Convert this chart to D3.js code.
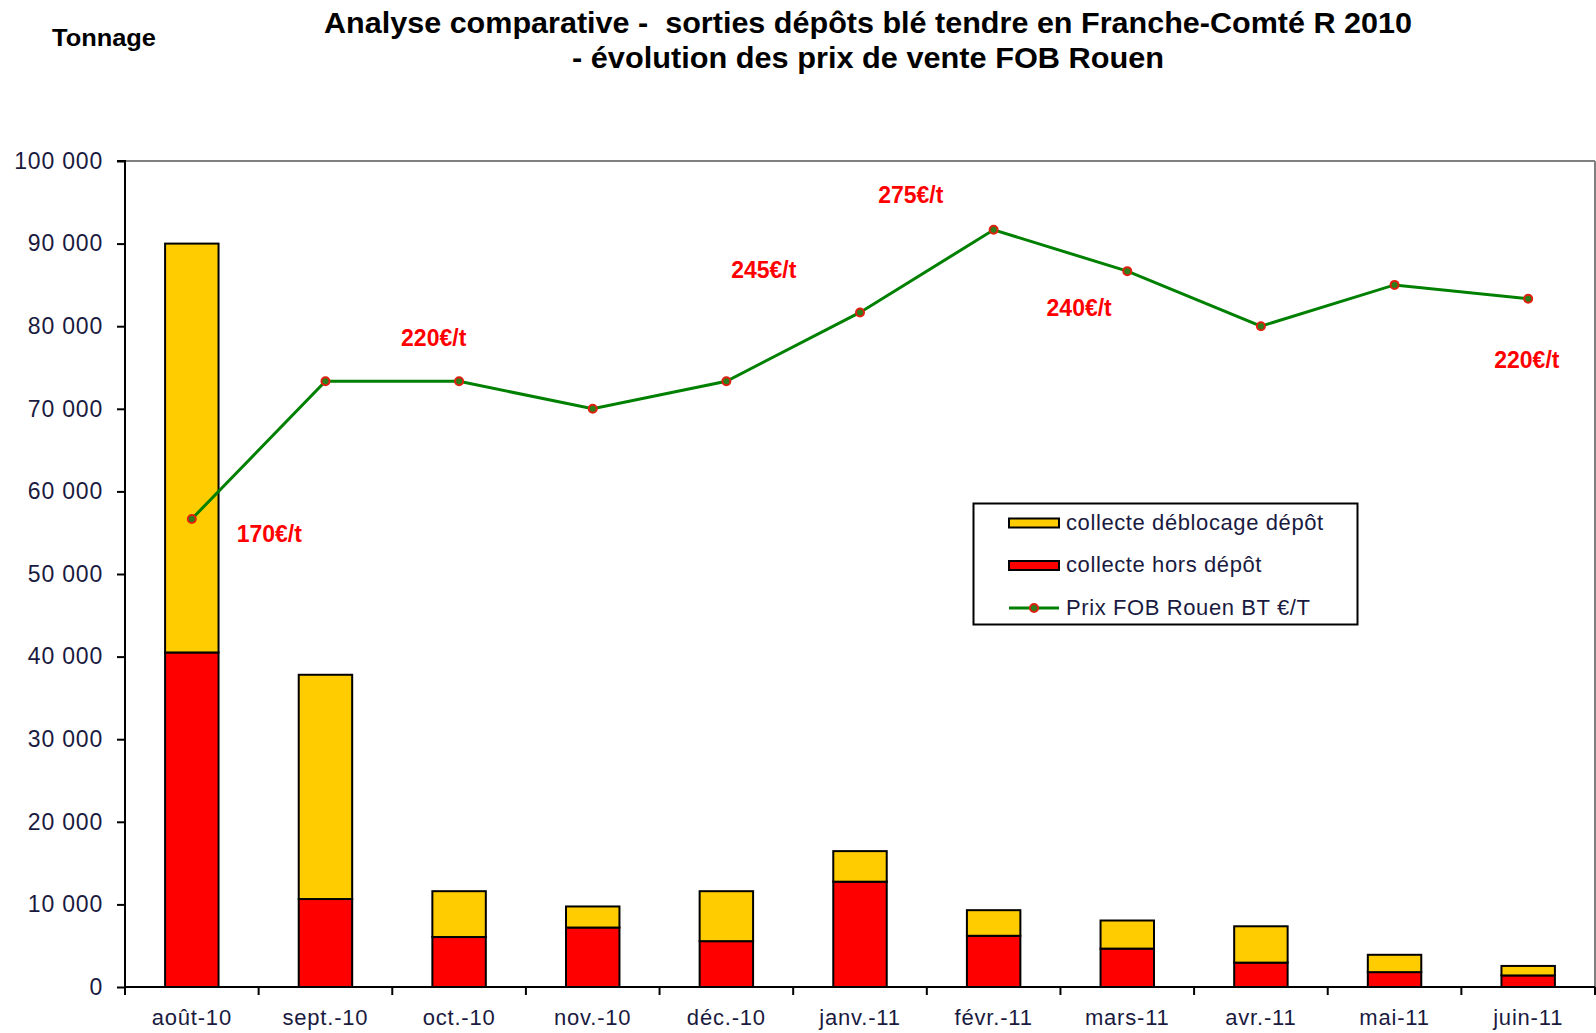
<!DOCTYPE html>
<html><head><meta charset="utf-8">
<script src="https://cdn.jsdelivr.net/npm/d3@7"></script>
<style>
html,body{margin:0;padding:0;background:#fff;}
text{font-family:"Liberation Sans",Arial,sans-serif;}
</style></head>
<body>
<svg id="chart" width="1596" height="1033"></svg>
<script>
const categories = ["août-10","sept.-10","oct.-10","nov.-10","déc.-10","janv.-11","févr.-11","mars-11","avr.-11","mai-11","juin-11"];
const horsDepot = [40500,10650,6050,7200,5550,12750,6200,4650,2950,1800,1400];
const deblocage = [49500,27150,5550,2550,6050,3700,3100,3400,4400,2100,1150];
const prixFOB = [170,220,220,210,220,245,275,260,240,255,250];
const yTicks = [0,10000,20000,30000,40000,50000,60000,70000,80000,90000,100000];
const priceLabels = [
  {text:"170€/t", cat:0.58, price:164.6},
  {text:"220€/t", cat:1.81, price:235.6},
  {text:"245€/t", cat:4.28, price:260.4},
  {text:"275€/t", cat:5.38, price:287.8},
  {text:"240€/t", cat:6.64, price:246.7},
  {text:"220€/t", cat:9.99, price:227.9}
];
const titleLines = ["Analyse comparative -  sorties dépôts blé tendre en Franche-Comté R 2010","- évolution des prix de vente FOB Rouen"];
const legendItems = [
  {label:"collecte déblocage dépôt", type:"bar", color:"#FFCC00"},
  {label:"collecte hors dépôt", type:"bar", color:"#FF0000"},
  {label:"Prix FOB Rouen BT €/T", type:"line", color:"#008000"}
];

const svg = d3.select("#chart");
const m = {left:125, right:1595, top:161, bottom:987};

const x = d3.scaleBand().domain(categories).range([m.left, m.right]).paddingInner(0.6).paddingOuter(0.3);
const xCat = d3.scaleBand().domain(categories).range([m.left, m.right]);
const y = d3.scaleLinear().domain([0,100000]).range([m.bottom, m.top]);
const y2 = d3.scaleLinear().domain([0,300]).range([m.bottom, m.top]);
const xIdx = i => m.left + xCat.step()*(i+0.5);

// plot border (top & right)
svg.append("line").attr("x1",m.left).attr("x2",m.right).attr("y1",m.top).attr("y2",m.top).attr("stroke","#808080").attr("stroke-width",2);
svg.append("line").attr("x1",m.right).attr("x2",m.right).attr("y1",m.top).attr("y2",m.bottom).attr("stroke","#808080").attr("stroke-width",2);

// bars
const stackData = categories.map((c,i)=>({cat:c, hors:horsDepot[i], debl:deblocage[i]}));
const stack = d3.stack().keys(["hors","debl"])(stackData);
const colors = {hors:"#FF0000", debl:"#FFCC00"};
svg.append("g").selectAll("g").data(stack).join("g")
  .attr("fill", d=>colors[d.key])
  .selectAll("rect").data(d=>d).join("rect")
  .attr("x", d=>x(d.data.cat))
  .attr("width", x.bandwidth())
  .attr("y", d=>y(d[1]))
  .attr("height", d=>y(d[0])-y(d[1]))
  .attr("stroke","#000").attr("stroke-width",2);

// y axis
const yAxis = d3.axisLeft(y).tickValues(yTicks).tickSize(8)
  .tickFormat(d=>d3.format(",")(d).replace(/,/g," "));
const gy = svg.append("g").attr("transform",`translate(${m.left},0)`).call(yAxis);
gy.select(".domain").attr("stroke","#000").attr("stroke-width",2).attr("d",`M-8,${m.top}H0V${m.bottom+8}`);
gy.selectAll(".tick line").attr("stroke","#000").attr("stroke-width",2);
gy.selectAll(".tick text").attr("font-size",23).attr("fill","#1a1a40").attr("x",-22)
  .attr("letter-spacing","0.8px")
  .attr("font-family","'Liberation Sans',Arial,sans-serif");

// x axis
const gx = svg.append("g").attr("transform",`translate(0,${m.bottom})`);
gx.append("line").attr("x1",m.left).attr("x2",m.right).attr("stroke","#000").attr("stroke-width",2);
gx.selectAll("line.tk").data(categories.slice(1).concat(["end"])).join("line").attr("class","tk")
  .attr("x1",(d,i)=>m.left+xCat.step()*(i+1)).attr("x2",(d,i)=>m.left+xCat.step()*(i+1))
  .attr("y1",0).attr("y2",8).attr("stroke","#000").attr("stroke-width",2);
gx.selectAll("text").data(categories).join("text")
  .attr("x",d=>xCat(d)+xCat.bandwidth()/2).attr("y",38)
  .attr("text-anchor","middle").attr("font-size",22).attr("letter-spacing","0.8px").attr("fill","#1a1a40").text(d=>d);

// price line
const line = d3.line().x((d,i)=>xIdx(i)).y(d=>y2(d));
svg.append("path").datum(prixFOB).attr("d",line).attr("fill","none").attr("stroke","#008000").attr("stroke-width",3);
svg.append("g").selectAll("circle").data(prixFOB).join("circle")
  .attr("cx",(d,i)=>xIdx(i)).attr("cy",d=>y2(d)).attr("r",4)
  .attr("fill","#2e7d1a").attr("stroke","#e02010").attr("stroke-width",2);

// price labels
svg.append("g").selectAll("text").data(priceLabels).join("text")
  .attr("x",d=>xIdx(d.cat)).attr("y",d=>y2(d.price)).attr("dy","0.35em")
  .attr("text-anchor","middle").attr("font-size",23).attr("font-weight","bold").attr("fill","#FF0000")
  .text(d=>d.text);

// legend
const lg = svg.append("g");
lg.append("rect").attr("x",973.5).attr("y",503.5).attr("width",384).attr("height",121).attr("fill","#fff").attr("stroke","#000").attr("stroke-width",2);
const li = lg.selectAll("g").data(legendItems).join("g").attr("transform",(d,i)=>`translate(1009,${523+i*42.5})`);
li.filter(d=>d.type==="bar").append("rect").attr("x",0).attr("y",-4.5).attr("width",50).attr("height",9)
  .attr("fill",d=>d.color).attr("stroke","#000").attr("stroke-width",2);
li.filter(d=>d.type==="line").append("line").attr("x1",0).attr("x2",50).attr("stroke",d=>d.color).attr("stroke-width",3);
li.filter(d=>d.type==="line").append("circle").attr("cx",25).attr("r",4).attr("fill","#2e7d1a").attr("stroke","#e02010").attr("stroke-width",2);
li.append("text").attr("x",57).attr("y",-1).attr("dy","0.35em").attr("font-size",22).attr("letter-spacing","0.6px").attr("fill","#1a1a40").text(d=>d.label);

// title
const titleWidths = [1088, 592];
svg.append("g").selectAll("text").data(titleLines).join("text")
  .attr("x",868).attr("y",(d,i)=>33+i*34.5).attr("text-anchor","middle")
  .style("white-space","pre")
  .attr("textLength",(d,i)=>titleWidths[i]).attr("lengthAdjust","spacingAndGlyphs")
  .attr("font-size",29).attr("font-weight","bold").attr("fill","#000").text(d=>d);
svg.append("text").attr("x",104).attr("y",46).attr("text-anchor","middle").attr("font-size",24)
  .attr("textLength",104).attr("lengthAdjust","spacingAndGlyphs").attr("font-weight","bold").text("Tonnage");
</script>
</body></html>
